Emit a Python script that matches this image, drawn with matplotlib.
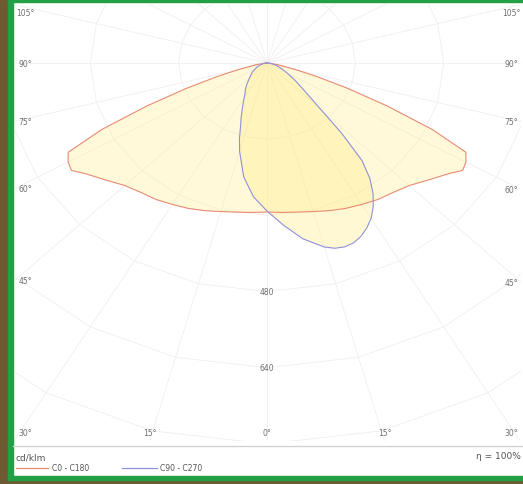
import numpy as np
import matplotlib
matplotlib.use("Agg")
import matplotlib.pyplot as plt
from matplotlib.patches import Rectangle
from matplotlib.lines import Line2D

# ---- data (cd/klm) ----
red_angles = [0, 5, 10, 15, 20, 25, 30, 35, 40, 45, 50, 55, 57.5, 60, 62.5,
              65, 67.5, 70, 72.5, 75, 80, 85, 90]
red_c0 = [313, 315, 318, 323, 330, 337, 343, 350, 355, 364, 382, 404, 420, 416, 406,
          330, 235, 155, 95, 55, 20, 5, 0]          # C0 == C180 (symmetric)

blue_angles = [0, 5, 10, 15, 17.5, 20, 22.5, 25, 27.5, 30, 32.5, 35, 37.5, 40, 42.5, 45,
               50, 55, 60, 65, 70, 75, 80, 85, 90]
blue_c90 = [311, 342, 375, 400, 408, 411, 409, 402, 391, 377, 358, 335, 306, 268, 200, 137,
            85, 60, 42, 30, 22, 15, 8, 3, 0]
blue_c270 = [311, 282, 243, 192, 166, 140, 122, 106, 93, 82, 74, 68, 62, 56, 50, 45,
             38, 32, 25, 20, 15, 10, 6, 2, 0]

circle_values = [160, 320, 480, 640, 800]
circle_labels = [480, 640]
angle_labels = [105, 90, 75, 60, 45, 30, 15, 0]
legend_names = ["C0 - C180", "C90 - C270"]
unit_text = "cd/klm"
eta_text = "η = 100%"

W, H = 523, 485
fig = plt.figure(figsize=(W / 100, H / 100), dpi=100)
fig.patch.set_facecolor("white")

def fx(px):
    return px / W

def fy(py):
    return 1 - py / H

# frame: brown strips and green border lines
brown = "#6e5a32"
green = "#22a045"
fig.patches.append(Rectangle((0, 0), fx(8), 1, transform=fig.transFigure, color=brown, zorder=0))
fig.patches.append(Rectangle((0, 0), 1, fy(481), transform=fig.transFigure, color=brown, zorder=0))
fig.patches.append(Rectangle((fx(8), fy(481)), fx(5), fy(0) - fy(481), transform=fig.transFigure, color=green, zorder=1))
fig.patches.append(Rectangle((fx(8), fy(481)), 1, fy(477) - fy(481), transform=fig.transFigure, color=green, zorder=1))
fig.patches.append(Rectangle((fx(8), fy(3)), 1, fy(0) - fy(3), transform=fig.transFigure, color=green, zorder=1))
# separator line
fig.add_artist(Line2D([fx(13), 1], [fy(447), fy(447)], transform=fig.transFigure, color="#d2d2d2", lw=1.0))

# ---- polar diagram axes ----
ax = fig.add_axes([fx(15), fy(442), (521 - 15) / W, (442 - 5) / H])
xmin, xmax, ymin, ymax = -456.5, 460, -794, 124
ax.set_xlim(xmin, xmax)
ax.set_ylim(ymin, ymax)
ax.axis("off")

grid_col = "#efefef"
poly = np.deg2rad(np.arange(0, 361, 15))
for v in circle_values:
    ax.plot(v * np.sin(poly), -v * np.cos(poly), color=grid_col, lw=0.6, zorder=1)
R = 2000
for a in np.arange(0, 360, 15):
    t = np.deg2rad(a)
    ax.plot([0, R * np.sin(t)], [0, -R * np.cos(t)], color=grid_col, lw=0.6, zorder=1)

lab_col = "#707070"
for v in circle_labels:
    ax.text(0, -v, str(v), ha="center", va="center", fontsize=5.5, color=lab_col, zorder=2)

# angle labels where radial lines meet the frame (kept inside)
mx, my = 18, 18
for a in angle_labels:
    for s in ([1, -1] if a != 0 else [1]):
        t = np.deg2rad(a)
        dx, dy = s * np.sin(t), -np.cos(t)
        ts = []
        if dx > 1e-9: ts.append(xmax / dx)
        if dx < -1e-9: ts.append(xmin / dx)
        if dy > 1e-9: ts.append(ymax / dy)
        if dy < -1e-9: ts.append(ymin / dy)
        k = min(ts)
        px = np.clip(k * dx, xmin + mx, xmax - mx)
        py = np.clip(k * dy, ymin + my, ymax - my)
        ax.text(px, py, f"{a}°", ha="center", va="center", fontsize=5.5, color=lab_col, zorder=2)

# ---- curves ----
def closed_curve(angles, right, left):
    ang = np.deg2rad(np.array(angles, dtype=float))
    r = np.array(right, dtype=float)
    l = np.array(left, dtype=float)
    xr, yr = r * np.sin(ang), -r * np.cos(ang)
    xl, yl = -l * np.sin(ang), -l * np.cos(ang)
    x = np.concatenate([xr[::-1], xl[1:]])
    y = np.concatenate([yr[::-1], yl[1:]])
    return x, y

fill_col = "#ffee8c"
xr_, yr_ = closed_curve(red_angles, red_c0, red_c0)
xb_, yb_ = closed_curve(blue_angles, blue_c90, blue_c270)
ax.fill(xr_, yr_, color=fill_col, alpha=0.33, lw=0, zorder=3)
ax.fill(xb_, yb_, color=fill_col, alpha=0.38, lw=0, zorder=3)
red_col = "#e98a72"
blue_col = "#9090da"
ax.plot(xr_, yr_, color=red_col, lw=0.8, zorder=4)
ax.plot(xb_, yb_, color=blue_col, lw=0.8, zorder=4)

# ---- legend area ----
txt_col = "#555555"
fig.text(fx(16), fy(458), unit_text, ha="left", va="center", fontsize=6.5, color=txt_col)
fig.add_artist(Line2D([fx(16), fx(48)], [fy(469), fy(469)], transform=fig.transFigure, color=red_col, lw=0.9))
fig.text(fx(52), fy(469), legend_names[0], ha="left", va="center", fontsize=5.5, color=txt_col)
fig.add_artist(Line2D([fx(122), fx(157)], [fy(469), fy(469)], transform=fig.transFigure, color=blue_col, lw=0.9))
fig.text(fx(160), fy(469), legend_names[1], ha="left", va="center", fontsize=5.5, color=txt_col)
fig.text(fx(521), fy(457), eta_text, ha="right", va="center", fontsize=6.5, color=txt_col)

fig.savefig("out.png", dpi=100, facecolor=fig.get_facecolor())
